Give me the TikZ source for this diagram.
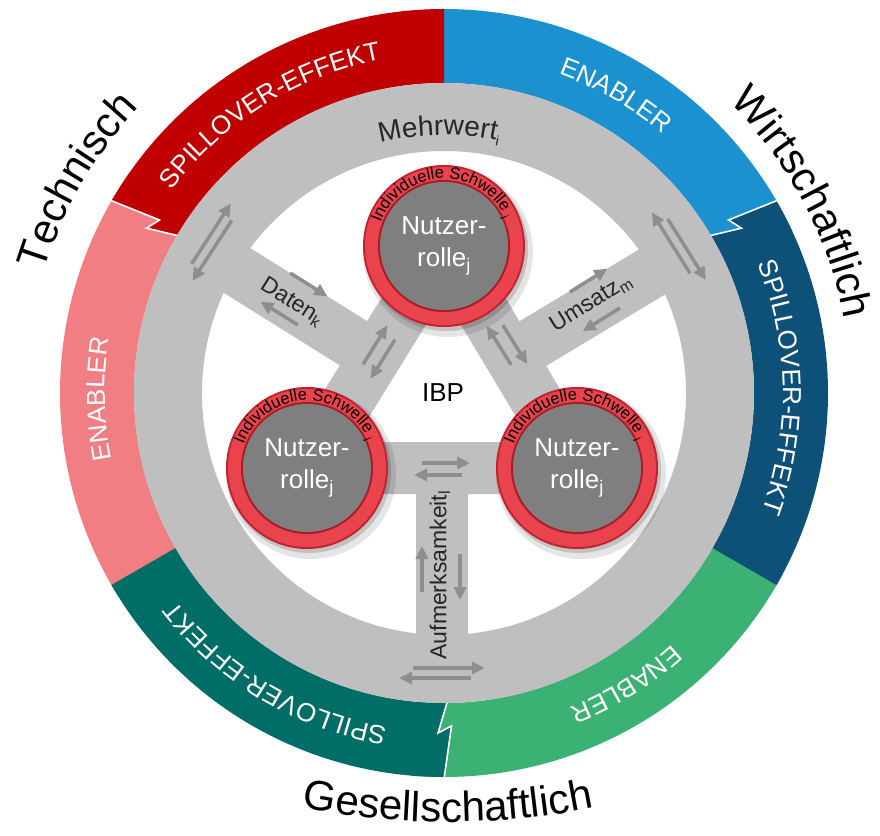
\documentclass[tikz,border=0pt]{standalone}
\usepackage{fontspec}
\setmainfont{Liberation Sans}
\usetikzlibrary{arrows.meta,calc,decorations.text}

\definecolor{spTech}{HTML}{C00000}
\definecolor{enTech}{HTML}{F07E82}
\definecolor{enWirt}{HTML}{1B91D0}
\definecolor{spWirt}{HTML}{0D5179}
\definecolor{enGes}{HTML}{3BB274}
\definecolor{spGes}{HTML}{006E67}
\definecolor{wheel}{HTML}{BFBFBF}
\definecolor{flowgray}{HTML}{8E8E8E}
\definecolor{rimred}{HTML}{C3222C}
\definecolor{ringred}{HTML}{E9434D}
\definecolor{rolegray}{HTML}{7F7F7F}

\newcommand\fCat{\fontsize{42}{42}\selectfont}
\newcommand\fRing{\fontsize{26}{26}\selectfont}
\newcommand\fMehr{\fontsize{28}{28}\selectfont}
\newcommand\fSpoke{\fontsize{23}{23}\selectfont}
\newcommand\fRolle{\fontsize{26}{32}\selectfont}
\newcommand\fSchw{\fontsize{16.5}{16.5}\selectfont}

% two opposite arrows side by side: position, axis, half gap, length, stagger
\newcommand\flowpair[5]{%
  \begin{scope}[shift={#1}, rotate=#2]
    \draw[flow] ({-#4/2+#5},#3) -- ({#4/2+#5},#3);
    \draw[flow] ({#4/2-#5},-#3) -- ({-#4/2-#5},-#3);
  \end{scope}}

\begin{document}
\begin{tikzpicture}[x=1pt, y=1pt,
    band/.style={draw=wheel, line width=52pt},
    flow/.style={draw=flowgray, line width=3.5pt,
                 -{Triangle[length=13pt, width=12pt]}},
    bolt/.style={draw=white, line width=1.6pt, line join=miter},
    rolle/.style={align=center, text=white, font=\fRolle, inner sep=0pt},
    spoke label/.style={font=\fSpoke, text=black!85, inner sep=0pt},
    ring text/.style={decorate, decoration={text along path, text align=center,
                      text={|\fRing\color{white}|#1}}},
    cat text/.style={decorate, decoration={text along path, text align=center,
                     text={|\fCat|#1}}}
  ]
  \useasboundingbox[fill=white] (-444,-442) rectangle (436,393);

  % ---- outer ring: enabler and spillover sectors ----
  \foreach \b/\c in {150/enTech, 30/enWirt, 270/enGes}
    \fill[\c] (\b-5:384) arc[start angle=\b-5, end angle=\b+62, radius=384pt]
      -- (\b+62:310) arc[start angle=\b+62, end angle=\b-5, radius=310pt] -- cycle;
  \foreach \a/\s/\c in {90/-1/spTech, -30/1/spWirt, 210/1/spGes}
    \fill[\c] (\a:384) arc[start angle=\a, end angle=\a+60, radius=384pt]
      -- ({\a+60+(\s)*1.3}:333) -- ({\a+60-(\s)*1.0}:340) -- ({\a+60+(\s)*0.6}:310)
      arc[start angle={\a+60+(\s)*0.6}, end angle=\a, radius=310pt] -- cycle;
  \foreach \a/\s in {150/-1, 30/1, 270/1}
    \draw[bolt] (\a:386) -- ({\a+(\s)*1.3}:333) -- ({\a-(\s)*1.0}:340)
      -- ({\a+(\s)*0.6}:309);

  \path[ring text=SPILLOVER-EFFEKT] (162:339) arc[start angle=162, end angle=82, radius=339pt];
  \path[ring text=ENABLER] (100:339) arc[start angle=100, end angle=20, radius=339pt];
  \path[ring text=SPILLOVER-EFFEKT] (41:339) arc[start angle=41, end angle=-39, radius=339pt];
  \path[ring text=ENABLER] (342:339) arc[start angle=342, end angle=262, radius=339pt];
  \path[ring text=SPILLOVER-EFFEKT] (279:339) arc[start angle=279, end angle=199, radius=339pt];
  \path[ring text=ENABLER] (221:339) arc[start angle=221, end angle=141, radius=339pt];

  % ---- category names ----
  \path[cat text=Technisch] (190:418) arc[start angle=190, end angle=110, radius=418pt];
  \path[cat text=Wirtschaftlich] (68:407) arc[start angle=68, end angle=-12, radius=407pt];
  \coordinate (gArc) at (4,321);
  \path[cat text=Gesellschaftlich] ([shift={(254:750)}]gArc)
    arc[start angle=254, end angle=286, radius=750pt];

  % ---- grey wheel with triangle and spokes ----
  \fill[wheel, even odd rule] (0,0) circle (310pt) circle (242pt);

  \coordinate (rTop) at (0,147);
  \coordinate (rLeft) at (-137,-75);
  \coordinate (rRight) at (133,-75);
  \coordinate (mLeft) at ($(rTop)!.5!(rLeft)$);
  \coordinate (mRight) at ($(rTop)!.5!(rRight)$);
  \coordinate (mBottom) at ($(rLeft)!.5!(rRight)$);
  \coordinate (eLeft) at ($(mLeft)+(148:215)$);
  \coordinate (eRight) at ($(mRight)+(31:215)$);
  \coordinate (eBottom) at ($(mBottom)+(270:215)$);

  \draw[band, line join=round] (rTop) -- (rLeft) -- (rRight) -- cycle;
  \draw[band] (mLeft) -- (eLeft);
  \draw[band] (mRight) -- (eRight);
  \draw[band] (mBottom) -- (eBottom);

  \path[decorate, decoration={text along path, text align=center,
        text={|\fMehr\color{black!85}|Mehrwert{\raisebox{-5pt}{\fontsize{14}{14}\selectfont i}}}}]
    (131:258) arc[start angle=131, end angle=51, radius=258pt];

  % ---- arrows on ring, spokes and triangle ----
  \flowpair{(147:277)}{57}{5}{72}{7}
  \flowpair{(32:277)}{-58}{5}{72}{7}
  \flowpair{(-2,-280)}{0}{5}{72}{7}
  \flowpair{(-150,94)}{-32}{20}{44}{5}
  \flowpair{(151,93)}{32}{20}{44}{5}
  \flowpair{(-3,-180)}{90}{19}{46}{4}
  \flowpair{(-65,41)}{58}{7}{46}{4}
  \flowpair{(63,48)}{-58}{7}{46}{4}
  \flowpair{(-2,-76)}{0}{6}{48}{4}

  \node[spoke label, rotate=-32] (daten) at (-152,91) {Daten\textsubscript{k}};
  \node[spoke label, rotate=32] (umsatz) at (147,90) {Umsatz\textsubscript{m}};
  \node[spoke label, rotate=90] (aufm) at (-4,-182) {Aufmerksamkeit\textsubscript{l}};
  \node[font=\fRolle] (ibp) at (-1,0) {IBP};

  % ---- Nutzerrollen ----
  \foreach \r/\n in {rTop/nTop, rLeft/nLeft, rRight/nRight} {
    \fill[black, opacity=.10] ([shift={(4,-6)}]\r) circle (85pt);
    \fill[black, opacity=.15] ([shift={(2,-3)}]\r) circle (82pt);
    \fill[rimred] (\r) circle (81pt);
    \fill[ringred] (\r) circle (79pt);
    \fill[rimred!85!black] (\r) circle (66pt);
    \fill[rolegray] (\r) circle (64pt);
    \path[decorate, decoration={text along path, text align=center,
          text={|\fSchw|Individuelle Schwelle {\raisebox{-3pt}{\fontsize{10}{10}\selectfont j}}}}]
      ([shift={(176:67.5)}]\r) arc[start angle=176, end angle=8, radius=67.5pt];
    \node[rolle] (\n) at (\r) {Nutzer-\\rolle\textsubscript{j}};
  }
\end{tikzpicture}
\end{document}
